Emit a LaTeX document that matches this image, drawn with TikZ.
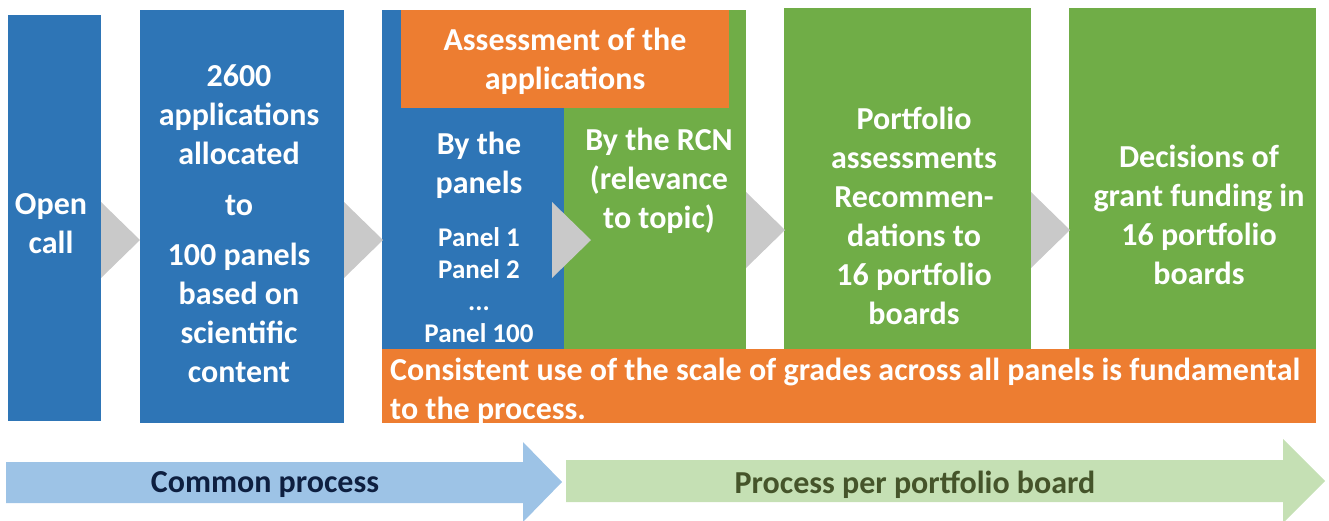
\documentclass[tikz,border=0pt]{standalone}
\usepackage{fontspec}
\setmainfont{Carlito}
\usetikzlibrary{positioning}
\definecolor{mblue}{HTML}{2E75B6}
\definecolor{mgreen}{HTML}{70AD47}
\definecolor{morange}{HTML}{ED7D31}
\definecolor{mgrey}{HTML}{C9C9C9}
\definecolor{lblue}{HTML}{9DC3E6}
\definecolor{lgreen}{HTML}{C5E0B4}
\definecolor{dnavy}{HTML}{0E1F40}
\definecolor{dolive}{HTML}{45542A}
\tikzset{txt/.style = {text=white, align=center, inner sep=0,
                       font=\bfseries\fontsize{32}{39}\selectfont}}
\tikzset{small/.style = {txt, font=\bfseries\fontsize{27}{32}\selectfont}}
\tikzset{chev/.style = {fill=mgrey}}
\newcommand{\chevron}[2]{\fill[chev] (#1, #2-38) -- (#1+39, #2) -- (#1, #2+38) -- cycle;}

\begin{document}
\begin{tikzpicture}[x=1pt, y=-1pt]
    \useasboundingbox (0, 0) rectangle (1329, 520);

    % process boxes
    \fill [mblue] (8, 15) rectangle (101, 421);
    \fill [mblue] (140, 10) rectangle (344, 423);
    \fill [mblue] (382, 10) rectangle (564, 349);
    \fill [mgreen] (564, 10) rectangle (746, 349);
    \fill [mgreen] (784, 8) rectangle (1031, 349);
    \fill [mgreen] (1069, 8) rectangle (1316, 349);
    \fill [morange] (401, 10) rectangle (729, 108);
    \fill [morange] (382, 349) rectangle (1316, 423);

    % chevrons between the boxes
    \chevron{101}{240}
    \chevron{344}{240}
    \chevron{552}{240}
    \chevron{746}{230}
    \chevron{1031}{230}

    \node [txt] (open) at (51, 224) {Open\\call};
    \node [txt] (alloc) at (239, 224) {2600\\applications\\allocated\\[12pt]to\\[11pt]100 panels\\based on\\scientific\\content};
    \node [txt] (assess) at (565, 61) {Assessment of the\\applications};
    \node [txt] (panels) at (479, 165) {By the\\panels};
    \node [small] (list) at (479, 285) {Panel 1\\Panel 2\\...\\Panel 100};
    \node [txt] (rcn) at (659, 181) {By the RCN\\(relevance\\to topic)};
    \node [txt] (portf) at (914, 216) {Portfolio\\assessments\\Recommen-\\dations to\\16 portfolio\\boards};
    \node [txt] (decis) at (1199, 215) {Decisions of\\grant funding in\\16 portfolio\\boards};
    \node [txt, align=left, anchor=west] (note) at (390, 391) {Consistent use of the scale of grades across all panels is fundamental\\to the process.};

    % bottom arrows
    \fill [lblue] (6, 462) -- (523, 462) -- (523, 442) -- (562, 482) -- (523, 522)
                  -- (523, 503) -- (6, 503) -- cycle;
    \fill [lgreen] (566, 460) -- (1283, 460) -- (1283, 439) -- (1325, 481) -- (1283, 523)
                   -- (1283, 502) -- (566, 502) -- cycle;
    \node [txt, text=dnavy, font=\bfseries\fontsize{32}{38}\selectfont] (common) at (265, 485) {Common process};
    \node [txt, text=dolive, font=\bfseries\fontsize{32}{38}\selectfont] (perboard) at (915, 485) {Process per portfolio board};
\end{tikzpicture}
\end{document}
